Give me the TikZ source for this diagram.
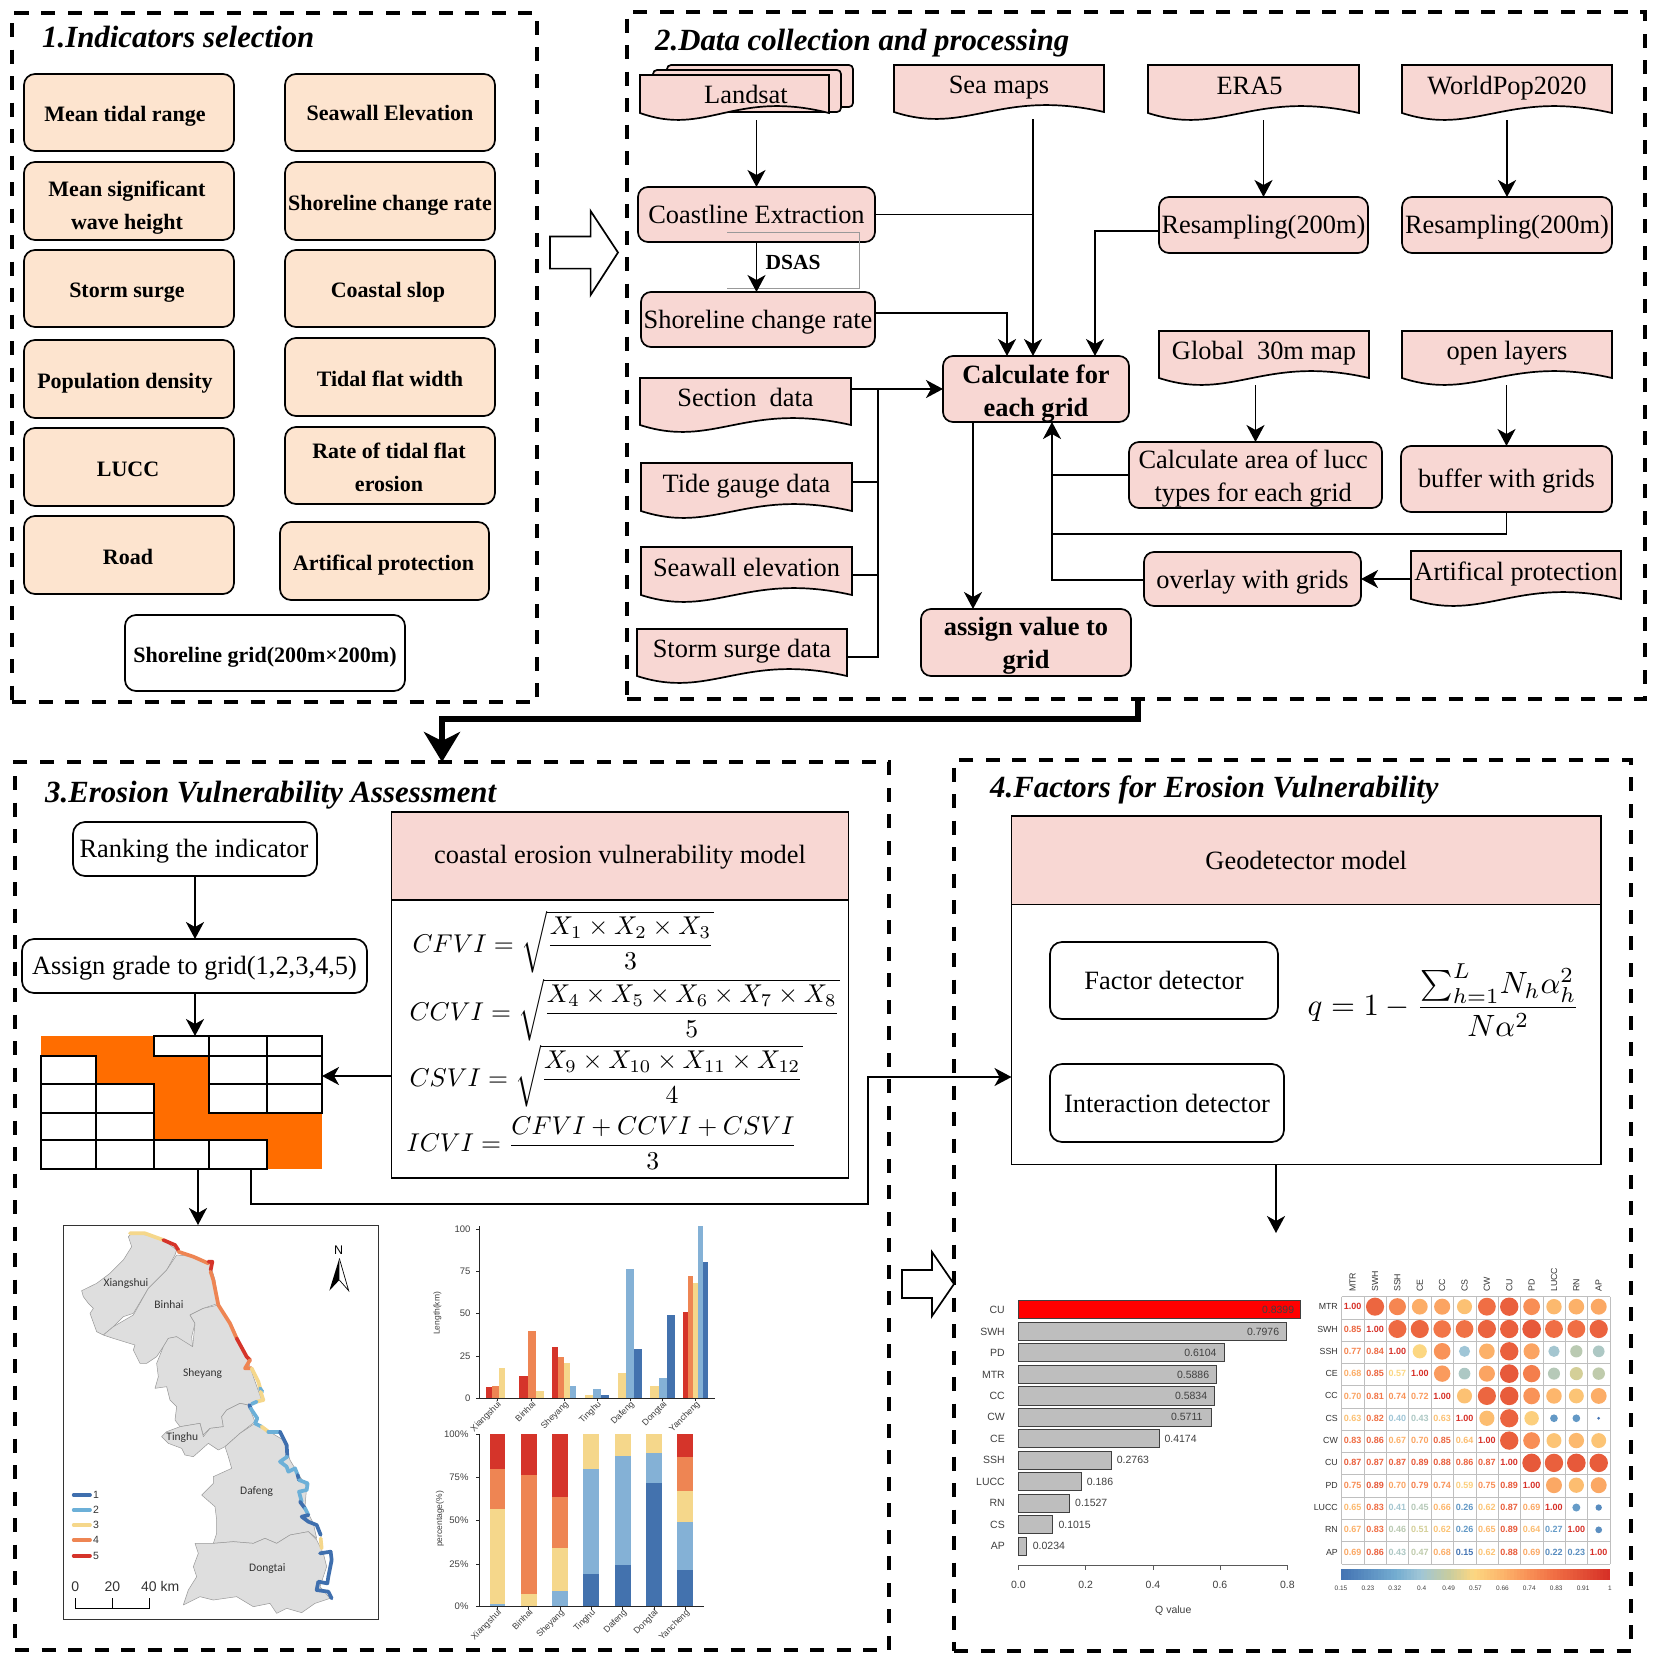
\documentclass[tikz,border=0pt]{standalone}
\usepackage{amsmath}
\usepackage{fontspec}
\setmainfont{Liberation Serif}
\setsansfont{Liberation Sans}
\newfontfamily\mapfont{Carlito}
\usetikzlibrary{arrows.meta,calc}
\definecolor{pinkc}{HTML}{F8D7D3}
\definecolor{peachc}{HTML}{FDE4CF}
\definecolor{orangec}{HTML}{FF6D00}
\definecolor{barR}{HTML}{D5342A}
\definecolor{barO}{HTML}{EE8553}
\definecolor{barY}{HTML}{F5D78B}
\definecolor{barL}{HTML}{84B1D6}
\definecolor{barD}{HTML}{4372AE}
\definecolor{legA}{HTML}{3F6FAE}
\definecolor{legB}{HTML}{6CB0D8}
\definecolor{landc}{HTML}{DEDEDE}
\definecolor{redq}{HTML}{FF0000}
\definecolor{greyq}{HTML}{BEBEBE}
\tikzset{
 arr/.style={line width=1.8pt,-{Stealth[length=17pt,width=18pt,inset=5pt]}},
 lin/.style={line width=1.8pt},
 framebox/.style={draw,line width=3.6pt,dash pattern=on 14pt off 12.5pt,inner sep=0pt,outer sep=0pt},
 peachbox/.style={draw,fill=peachc,line width=1.7pt,rounded corners=11pt,inner sep=0pt,outer sep=0pt,align=center,font=\bfseries\fontsize{22}{33}\selectfont},
 whitebold/.style={peachbox,fill=white},
 pinkbox/.style={draw,fill=pinkc,line width=1.7pt,rounded corners=10pt,inner sep=0pt,outer sep=0pt,align=center,font=\fontsize{26.4}{33}\selectfont},
 pinkbold/.style={pinkbox,font=\bfseries\fontsize{26.4}{33}\selectfont},
 whitebox/.style={pinkbox,fill=white,rounded corners=12pt},
 squarebox/.style={draw,fill=white,line width=1.7pt,inner sep=0pt,outer sep=0pt,align=center,font=\fontsize{26.4}{33}\selectfont},
 headbox/.style={squarebox,fill=pinkc},
 docshape/.style={draw,fill=pinkc,line width=1.7pt},
 titletext/.style={anchor=west,inner sep=0pt,font=\bfseries\itshape\fontsize{30.8}{34}\selectfont},
 eqtext/.style={anchor=west,inner sep=0pt,scale=2.57},
 mapname/.style={inner sep=0pt,font=\mapfont\fontsize{11.5}{13}\selectfont,text=black!80},
 axt/.style={inner sep=0pt,text=black!75,font=\sffamily\fontsize{9.5}{11}\selectfont},
 qt/.style={inner sep=0pt,text=black!75,font=\sffamily\fontsize{10.5}{12}\selectfont},
 corrnum/.style={inner sep=0pt,font=\sffamily\bfseries\fontsize{9}{10}\selectfont},
 corrlab/.style={inner sep=0pt,text=black!80,font=\sffamily\fontsize{8.8}{10}\selectfont},
 coast/.style={line width=3.7pt,line cap=round,line join=round},
}
\newcommand\tsh[3]{\hspace*{#1pt}\raisebox{#2pt}[\height][\depth]{#3}}
\newcommand\twol[2]{\begin{tabular}{@{}c@{}}#1\\#2\end{tabular}}
\newcommand\boxat[7]{%
 \pgfmathsetmacro\myCx{(#3+#5)/2}\pgfmathsetmacro\myCy{(#4+#6)/2}%
 \pgfmathsetmacro\myW{#5-#3}\pgfmathsetmacro\myH{#6-#4}%
 \node[#1,minimum width=\myW pt,minimum height=\myH pt] (#2) at (\myCx,\myCy) {#7};}
\newcommand\docnode[6]{%
 \pgfmathsetmacro\myW{#4-#2}\pgfmathsetmacro\myCa{#2+.35*\myW}\pgfmathsetmacro\myCb{#2+.5*\myW}%
 \pgfmathsetmacro\myDn{#5+24}\pgfmathsetmacro\myUp{#5-24}%
 \path[docshape] (#2,#3) -- (#4,#3) -- (#4,#5) .. controls (\myCb,\myUp) and (\myCa,\myDn) .. (#2,#5) -- cycle;
 \pgfmathsetmacro\myCx{(#2+#4)/2}\pgfmathsetmacro\myCy{(#3+#5+7)/2}\pgfmathsetmacro\myH{#5+7-#3}%
 \node[inner sep=0pt,outer sep=0pt,minimum width=\myW pt,minimum height=\myH pt,font=\fontsize{26.4}{33}\selectfont] (#1) at (\myCx,\myCy) {\raisebox{-1.5pt}[0pt][0pt]{#6}};}
\newcommand\corrlerp[8]{%
 \pgfmathsetmacro\corrT{(\vv-#1)/(#2-#1)}%
 \pgfmathtruncatemacro\corrR{#3+(#6-#3)*\corrT}%
 \pgfmathtruncatemacro\corrG{#4+(#7-#4)*\corrT}%
 \pgfmathtruncatemacro\corrB{#5+(#8-#5)*\corrT}%
 \definecolor{cc}{RGB}{\corrR,\corrG,\corrB}}
\newcommand\setcorr[1]{\pgfmathsetmacro\vv{#1}%
 \ifdim\vv pt<.32pt \corrlerp{.15}{.32}{69}{117}{180}{116}{173}{209}\else
 \ifdim\vv pt<.40pt \corrlerp{.32}{.40}{116}{173}{209}{160}{198}{215}\else
 \ifdim\vv pt<.49pt \corrlerp{.40}{.49}{160}{198}{215}{200}{205}{160}\else
 \ifdim\vv pt<.57pt \corrlerp{.49}{.57}{200}{205}{160}{252}{215}{130}\else
 \ifdim\vv pt<.66pt \corrlerp{.57}{.66}{252}{215}{130}{253}{182}{108}\else
 \ifdim\vv pt<.74pt \corrlerp{.66}{.74}{253}{182}{108}{249}{147}{88}\else
 \ifdim\vv pt<.83pt \corrlerp{.74}{.83}{249}{147}{88}{240}{110}{68}\else
 \ifdim\vv pt<.91pt \corrlerp{.83}{.91}{240}{110}{68}{228}{82}{55}\else
 \corrlerp{.91}{1}{228}{82}{55}{215}{48}{39}\fi\fi\fi\fi\fi\fi\fi\fi}
\begin{document}
\begin{tikzpicture}[x=1pt,y=-1pt]
\useasboundingbox (0,0) rectangle (1654,1663);
\fill[white] (0,0) rectangle (1654,1663);
% ---- frames
\boxat{framebox}{fa}{12}{13}{537}{702}{}
\boxat{framebox}{fb}{627}{12}{1645}{699}{}
\boxat{framebox}{fc}{15}{762}{889}{1650}{}
\boxat{framebox}{fd}{954}{760}{1631}{1651}{}
\node[titletext] (ta) at (42,37) {1.Indicators selection};
\node[titletext] (tb) at (655,43) {2.Data collection and processing};
\node[titletext] (tc) at (45,795) {3.Erosion Vulnerability Assessment};
\node[titletext] (td) at (990,790) {4.Factors for Erosion Vulnerability};
% ---- section 1
\boxat{peachbox}{p1}{24}{74}{234}{151}{\tsh{-8}{-4}{Mean tidal range}}
\boxat{peachbox}{p2}{24}{162}{234}{240}{\tsh{-4}{-5}{\twol{Mean significant}{wave height}}}
\boxat{peachbox}{p3}{24}{250}{234}{327}{\tsh{-4}{-4}{Storm surge}}
\boxat{peachbox}{p4}{24}{340}{234}{418}{\tsh{-8}{-4}{Population density}}
\boxat{peachbox}{p5}{24}{428}{234}{506}{\tsh{-2}{-2}{LUCC}}
\boxat{peachbox}{p6}{24}{516}{234}{594}{\tsh{-2}{-2}{Road}}
\boxat{peachbox}{q1}{285}{74}{495}{151}{Seawall Elevation}
\boxat{peachbox}{q2}{285}{162}{495}{240}{\tsh{0}{-4}{Shoreline change rate}}
\boxat{peachbox}{q3}{285}{250}{495}{327}{\tsh{-4}{-4}{Coastal slop}}
\boxat{peachbox}{q4}{285}{338}{495}{416}{\tsh{0}{-2}{Tidal flat width}}
\boxat{peachbox}{q5}{285}{427}{495}{504}{\tsh{-2}{-3}{\twol{Rate of tidal flat}{erosion}}}
\boxat{peachbox}{q6}{280}{522}{489}{600}{\tsh{-2}{-4}{Artifical protection}}
\boxat{whitebold}{sg}{125}{615}{405}{691}{\tsh{0}{-4}{Shoreline grid(200m×200m)}}
\draw[line width=1.7pt,fill=white] (550,236.5) -- (590.6,236.5) -- (590.6,211) -- (618,252.5) -- (590.6,295) -- (590.6,268.6) -- (550,268.6) -- cycle;
% ---- section 2 documents
\path[docshape,rounded corners=4pt] (667,107) -- (667,65) -- (853,65) -- (853,107) -- cycle;
\path[docshape,rounded corners=4pt] (653,112) -- (653,70) -- (841,70) -- (841,112) -- cycle;
\docnode{land}{640}{75}{829}{113}{\hspace*{23pt}\raisebox{-4pt}{Landsat}}
\docnode{sea}{894}{65}{1104}{112}{Sea maps}
\docnode{era}{1148}{65}{1359}{113}{\hspace*{-8pt}ERA5}
\docnode{world}{1402}{65}{1612}{113}{WorldPop2020}
\docnode{globalm}{1159}{331}{1369}{378}{Global\ \ 30m map}
\docnode{openl}{1402}{331}{1612}{378}{open layers}
\docnode{secd}{640}{378}{851}{425}{Section\ \ data}
\docnode{tide}{641}{463}{852}{511}{Tide gauge data}
\docnode{wall}{641}{547}{852}{595}{Seawall elevation}
\docnode{storm}{637}{629}{847}{676}{Storm surge data}
\docnode{art}{1411}{551}{1621}{599}{Artifical protection}
% ---- section 2 boxes
\boxat{pinkbox}{coastl}{638}{187}{875}{242}{Coastline Extraction}
\boxat{pinkbox}{rate}{641}{292}{875}{347}{\tsh{0}{-3}{Shoreline change rate}}
\boxat{pinkbox}{res1}{1159}{197}{1368}{253}{\tsh{0}{-2}{Resampling(200m)}}
\boxat{pinkbox}{res2}{1402}{197}{1612}{253}{\tsh{0}{-2}{Resampling(200m)}}
\boxat{pinkbold}{calc}{943}{356}{1129}{422}{\tsh{0}{-4}{\twol{Calculate for}{each grid}}}
\boxat{pinkbold}{assign}{921}{609}{1131}{676}{\tsh{0}{-3}{\twol{assign value to}{grid}}}
\boxat{pinkbox}{area}{1129}{442}{1382}{508}{\tsh{-4.6}{-3}{\twol{Calculate area of lucc}{types for each grid}}}
\boxat{pinkbox}{buffer}{1401}{446}{1612}{512}{\tsh{0}{-2}{buffer with grids}}
\boxat{pinkbox}{overlay}{1144}{552}{1361}{606}{\tsh{0}{-3}{overlay with grids}}
% DSAS
\draw[black!40,line width=.7pt] (727,232) -- (859,232) -- (859,288) -- (727,288);
\node[inner sep=0pt,font=\bfseries\fontsize{21.5}{24}\selectfont] (dsas) at (793,262) {DSAS};
% section 2 connectors
\coordinate (seaX) at (1033,120);
\coordinate (inA) at (1007,313);
\coordinate (inB) at (1095,231);
\coordinate (bus) at (878,389);
\coordinate (up) at (1052,580);
\draw[arr] (land.south -| coastl.north) -- (coastl.north);
\draw[arr] (coastl.south) -- (rate.north -| coastl.south);
\draw[arr] (sea.south -| seaX) -- (calc.north -| seaX);
\draw[lin] (coastl.east) -- (coastl.east -| seaX);
\draw[arr] (rate.east |- inA) -- (inA) -- (calc.north -| inA);
\draw[arr] (res1.west |- inB) -- (inB) -- (calc.north -| inB);
\draw[arr] (era.south -| res1.north) -- (res1.north);
\draw[arr] (world.south -| res2.north) -- (res2.north);
\draw[arr] (globalm.south -| area.north) -- (area.north);
\draw[arr] (openl.south -| buffer.north) -- (buffer.north);
\draw[arr] (secd.east |- bus) -- (calc.west |- bus);
\draw[lin] (bus) -- (bus |- 0,657) -- (storm.east |- 0,657);
\draw[lin] (tide.east |- 0,482) -- (bus |- 0,482);
\draw[lin] (wall.east |- 0,575) -- (bus |- 0,575);
\draw[arr] (calc.south -| 973,0) -- (assign.north -| 973,0);
\draw[arr] (overlay.west |- up) -- (up) -- (calc.south -| up);
\draw[lin] (area.west |- 0,475) -- (up |- 0,475);
\draw[lin] (buffer.south) -- (buffer.south |- 0,534) -- (up |- 0,534);
\draw[arr] (art.west |- 0,579) -- (overlay.east |- 0,579);
% thick connector
\coordinate (tkA) at (1138,699);
\coordinate (tkB) at (442,719);
\draw[line width=5.5pt,-{Stealth[length=30pt,width=36pt,inset=9pt]}] (tkA) |- (tkB) -- (fc.north -| tkB);
% ---- section 3
\boxat{whitebox}{rank}{73}{822}{317}{876}{\tsh{-2}{-2}{Ranking the indicator}}
\boxat{whitebox}{gradeb}{22}{939}{367}{993}{\tsh{0}{-2}{Assign grade to grid(1,2,3,4,5)}}
\boxat{headbox}{modelhead}{391.5}{812}{848.5}{900}{\tsh{0}{-1}{coastal erosion vulnerability model}}
\boxat{squarebox}{modelbody}{391.5}{900}{848.5}{1178}{}
\node[eqtext] (eqa) at (412,942) {$CFVI=\sqrt{\dfrac{X_1\times X_2\times X_3}{3}}$};
\node[eqtext] (eqb) at (409,1010) {$CCVI=\sqrt{\dfrac{X_4\times X_5\times X_6\times X_7\times X_8}{5}}$};
\node[eqtext] (eqc) at (409,1076) {$CSVI=\sqrt{\dfrac{X_9\times X_{10}\times X_{11}\times X_{12}}{4}}$};
\node[eqtext] (eqd) at (406,1143) {$ICVI=\dfrac{CFVI+CCVI+CSVI}{3}$};
% grid
\boxat{inner sep=0pt,outer sep=0pt}{grid}{41}{1036}{322}{1169}{}
\fill[orangec] (41,1036) rectangle (154,1056);
\fill[orangec] (96,1056) rectangle (209,1084);
\fill[orangec] (154,1084) rectangle (209,1140);
\fill[orangec] (209,1113) rectangle (322,1140);
\fill[orangec] (267,1140) rectangle (322,1169);
\begin{scope}[line width=1.3pt]
\draw (154,1036) rectangle (209,1056) (209,1036) rectangle (267,1056) (267,1036) rectangle (322,1056);
\draw (41,1056) rectangle (96,1084) (209,1056) rectangle (267,1084) (267,1056) rectangle (322,1084);
\draw (41,1084) rectangle (96,1113) (96,1084) rectangle (154,1113) (209,1084) rectangle (267,1113) (267,1084) rectangle (322,1113);
\draw (41,1113) rectangle (96,1140) (96,1113) rectangle (154,1140);
\draw (41,1140) rectangle (96,1169) (96,1140) rectangle (154,1169) (154,1140) rectangle (209,1169) (209,1140) rectangle (267,1169);
\end{scope}
\boxat{draw=black!80,line width=1pt,inner sep=0pt,outer sep=0pt}{mapf}{63}{1225}{378}{1619}{}
\coordinate (bendA) at (251,1204);
\coordinate (bendB) at (868,1077);
\draw[arr] (rank.south) -- (gradeb.north -| rank.south);
\draw[arr] (gradeb.south -| rank.south) -- (grid.north -| rank.south);
\draw[arr] (modelbody.west |- 0,1076) -- (grid.east |- 0,1076);
\draw[arr] (grid.south -| 198,0) -- (mapf.north -| 198,0);
% ---- section 4
\boxat{headbox}{geohead}{1011.5}{816}{1601}{904.5}{Geodetector model}
\boxat{squarebox}{geobody}{1011.5}{904.5}{1601}{1164.5}{}
\boxat{whitebox}{factor}{1050}{942}{1278}{1019}{Factor detector}
\boxat{whitebox}{inter}{1050}{1064}{1284}{1142}{Interaction detector}
\node[anchor=west,inner sep=0pt,scale=3.08] (eqq) at (1307,1000) {$q=1-\dfrac{\sum_{h=1}^{L}\!N_h\alpha_h^2}{N\alpha^2}$};
\coordinate (qc) at (1276,1233);
\draw[arr] (geobody.south -| qc) -- (qc);
\draw[arr] (grid.south -| bendA) -- (bendA) -| (bendB) -- (geobody.west |- bendB);
\draw[line width=1.7pt,fill=white] (902,1270) -- (932,1270) -- (932,1252) -- (954,1284) -- (932,1316) -- (932,1298) -- (902,1298) -- cycle;
% ---- map
\begin{scope}[shift={(0,1200)},x=.33333pt,y=-.33333pt]
\begin{scope}[fill=landc,draw=black!40,line width=.5pt,line join=round]
\filldraw (395,100)--(440,105)--(490,120)--(530,150)--(525,165)--(500,210)--(445,265)--(400,340)--(370,350)--(340,380)--(310,405)--(290,395)--(270,340)--(280,325)--(265,310)--(250,290)--(245,272)--(290,250)--(330,220)--(370,180)--(395,140)--(385,110)--cycle;
\filldraw (530,165)--(590,170)--(630,190)--(645,240)--(655,310)--(610,325)--(570,345)--(585,370)--(575,410)--(578,440)--(545,425)--(530,410)--(505,415)--(490,440)--(470,470)--(440,490)--(420,490)--(400,450)--(405,435)--(340,415)--(310,405)--(340,380)--(400,345)--(445,265)--(500,210)--cycle;
\filldraw (655,315)--(690,370)--(740,470)--(760,530)--(785,600)--(745,615)--(720,610)--(680,630)--(665,650)--(670,680)--(630,685)--(610,705)--(600,670)--(540,680)--(525,660)--(530,620)--(510,600)--(500,560)--(465,565)--(475,530)--(470,490)--(490,440)--(505,415)--(530,410)--(578,440)--(585,370)--(570,345)--(610,325)--cycle;
\filldraw (600,670)--(610,710)--(630,685)--(670,680)--(665,650)--(680,630)--(720,610)--(745,615)--(765,665)--(720,700)--(675,740)--(655,750)--(625,730)--(580,770)--(555,765)--(545,745)--(505,730)--(485,710)--(500,695)--(540,680)--cycle;
\filldraw (765,670)--(800,690)--(850,720)--(870,780)--(900,830)--(920,860)--(915,920)--(940,970)--(950,1015)--(925,995)--(870,1005)--(830,1030)--(795,1015)--(760,1030)--(700,1025)--(640,1030)--(650,1000)--(650,960)--(645,920)--(605,885)--(640,850)--(640,830)--(695,805)--(685,770)--(675,740)--(720,700)--cycle;
\filldraw (640,1030)--(700,1025)--(760,1030)--(795,1015)--(830,1030)--(870,1005)--(925,995)--(950,1020)--(970,1060)--(980,1100)--(960,1160)--(990,1195)--(945,1210)--(905,1238)--(860,1225)--(830,1240)--(810,1210)--(760,1220)--(710,1190)--(640,1200)--(600,1190)--(550,1215)--(565,1170)--(590,1130)--(580,1100)--(595,1060)--(585,1030)--cycle;
\end{scope}
\draw[coast,barY] (390,100)--(435,100)--(490,120);
\draw[coast,barR] (490,120)--(525,135)--(535,150);
\draw[coast,barO] (535,155)--(580,170)--(625,190);
\draw[coast,barR] (625,185)--(637,185)--(632,210);
\draw[coast,barO] (632,215)--(640,240)--(650,290)--(655,315)--(690,370)--(710,415);
\draw[coast,barR] (710,415)--(740,470)--(750,480);
\draw[coast,barO] (750,480)--(735,505)--(755,505);
\draw[coast,barY] (755,505)--(775,545)--(782,570);
\draw[coast,legB] (780,565)--(787,575);
\draw[coast,barY] (782,575)--(790,600)--(770,605);
\draw[coast,legB] (770,605)--(755,612);
\draw[coast,legA] (748,615)--(752,625);
\draw[coast,legB] (752,625)--(772,655)--(765,670)--(785,680);
\draw[coast,barY] (785,680)--(805,695);
\draw[coast,legB] (805,695)--(840,695);
\draw[coast,legA] (840,695)--(860,735)--(862,770);
\draw[coast,legB] (862,770)--(840,785)--(860,800)--(865,815)--(885,805)--(893,825);
\draw[coast,legA] (893,825)--(897,840);
\draw[coast,legB] (897,840)--(923,850)--(920,870)--(897,875)--(905,905);
\draw[coast,legA] (900,905)--(915,925);
\draw[coast,legB] (915,925)--(925,945);
\draw[coast,legA] (925,945)--(905,950)--(925,965)--(950,975)--(962,1005);
\draw[coast,barY] (962,1015)--(965,1045);
\draw[coast,legA] (960,1060)--(992,1055)--(995,1080)--(985,1130)--(982,1150)--(955,1145)--(950,1170)--(985,1175)--(995,1195);
\node[mapname] (m1) at (378,250) {Xiangshui};
\node[mapname] (m2) at (507,315) {Binhai};
\node[mapname] (m3) at (608,520) {Sheyang};
\node[mapname] (m4) at (547,712) {Tinghu};
\node[mapname] (m5) at (770,875) {Dafeng};
\node[mapname] (m6) at (802,1107) {Dongtai};
\foreach \ly/\bc/\lb [count=\n] in {885/legA/1,930/legB/2,975/barY/3,1020/barO/4,1067/barR/5}{
 \draw[coast,\bc] (221,\ly) -- (270,\ly);
 \node[anchor=west,inner sep=0pt,text=black!80,font=\sffamily\fontsize{10.5}{12}\selectfont] (leg\n) at (279,\ly) {\lb};
}
\draw[line width=.8pt] (226,1195) -- (226,1225) -- (447,1225) -- (447,1195) (337,1195) -- (337,1225);
\node[text=black!80,inner sep=0pt,font=\sffamily\fontsize{14}{16}\selectfont] (s0) at (226,1160) {0};
\node[text=black!80,inner sep=0pt,font=\sffamily\fontsize{14}{16}\selectfont] (s1) at (337,1160) {20};
\node[text=black!80,anchor=west,inner sep=0pt,font=\sffamily\fontsize{14}{16}\selectfont] (s2) at (423,1160) {40 km};
\node[inner sep=0pt,font=\sffamily\fontsize{12.5}{14}\selectfont] (north) at (1016,150) {N};
\fill (1018,175) -- (988,272) -- (1018,240) -- cycle;
\draw[line width=.7pt] (1018,175) -- (1046,272) -- (1018,240);
\end{scope}
% ---- bar charts
\begin{scope}[shift={(420,1200)},x=.33333pt,y=-.33333pt]
\foreach \xa/\xb/\yt/\bc in {198/217/562/barR,217/236/557/barO,236/255/503/barY,298/323/527/barR,323/347/393/barO,347/372/573/barY,396/414/441/barR,414/433/471/barO,433/451/490/barY,451/469/558/barL,495/518/586/barY,518/542/567/barL,542/567/586/barD,593/617/518/barY,617/642/208/barL,642/667/448/barD,691/716/557/barY,716/741/533/barL,741/765/344/barD,790/804/337/barR,804/819/228/barO,819/834/248/barY,834/849/78/barL,849/863/187/barD}{
 \fill[\bc] (\xa,595) rectangle (\xb,\yt);
}
\draw[line width=1pt,black!85] (177,78) -- (177,595) -- (885,595);
\foreach \yy/\lb [count=\n] in {87/100,213/75,340/50,468/25,595/0}{
 \draw[line width=.8pt,black!85] (168,\yy) -- (177,\yy);
 \node[axt,anchor=east] (ya\n) at (152,\yy) {\lb};
}
\node[axt,rotate=90,font=\sffamily\fontsize{8.5}{10}\selectfont] (ylab) at (52,340) {Length(km)};
\foreach \xx/\lb [count=\n] in {231/Xiangshui,335/Binhai,433/Sheyang,531/Tinghu,630/Dafeng,728/Dongtai,827/Yancheng}{
 \draw[line width=.8pt,black!85] (\xx,595) -- (\xx,604);
 \node[axt,rotate=45,anchor=north east,font=\sffamily\fontsize{8.8}{10}\selectfont] (xa\n) at (\xx,600) {\lb};
}
\foreach \xa/\xb/\ya/\yb/\bc in {209/256/1212/1220/barL,209/256/928/1212/barY,209/256/808/928/barO,209/256/703/808/barR,
303/350/1182/1220/barY,303/350/824/1182/barO,303/350/703/824/barR,
396/443/1173/1220/barL,396/443/1045/1173/barY,396/443/891/1045/barO,396/443/703/891/barR,
490/538/1122/1220/barD,490/538/808/1122/barL,490/538/703/808/barY,
585/632/1096/1220/barD,585/632/767/1096/barL,585/632/703/767/barY,
679/726/850/1220/barD,679/726/758/850/barL,679/726/703/758/barY,
772/819/1110/1220/barD,772/819/967/1110/barL,772/819/872/967/barY,772/819/772/872/barO,772/819/703/772/barR}{
 \fill[\bc] (\xa,\ya) rectangle (\xb,\yb);
}
\draw[line width=1pt,black!85] (177,703) -- (177,1220) -- (853,1220);
\foreach \yy/\lb [count=\n] in {703/100\%,832/75\%,962/50\%,1092/25\%,1220/0\%}{
 \draw[line width=.8pt,black!85] (168,\yy) -- (177,\yy);
 \node[axt,anchor=east] (yb\n) at (146,\yy) {\lb};
}
\node[axt,rotate=90,font=\sffamily\fontsize{8.5}{10}\selectfont] (ylabb) at (60,957) {percentage(\%)};
\foreach \xx/\lb [count=\n] in {232/Xiangshui,326/Binhai,420/Sheyang,514/Tinghu,608/Dafeng,702/Dongtai,796/Yancheng}{
 \draw[line width=.8pt,black!85] (\xx,1220) -- (\xx,1229);
 \node[axt,rotate=45,anchor=north east,font=\sffamily\fontsize{8.8}{10}\selectfont] (xb\n) at (\xx,1225) {\lb};
}
\end{scope}
% ---- Q chart
\begin{scope}[shift={(960,1270)},x=.33333pt,y=-.33333pt]
\foreach \lab/\ya/\yb/\xe/\val/\vx/\van/\fc [count=\n] in {CU/92/146/1022/0.8399/1003/east/redq,SWH/157/212/980/0.7976/958/east/greyq,PD/221/275/792/0.6104/770/east/greyq,MTR/287/341/770/0.5886/748/east/greyq,CC/350/405/763/0.5834/742/east/greyq,CW/414/468/753/0.5711/728/east/greyq,CE/479/533/597/0.4174/613/west/greyq,SSH/543/597/455/0.2763/470/west/greyq,LUCC/608/662/363/0.186/380/west/greyq,RN/672/726/328/0.1527/345/west/greyq,CS/737/791/278/0.1015/295/west/greyq,AP/802/856/199/0.0234/218/west/greyq}{
 \filldraw[fill=\fc,draw=black!75,line width=.9pt] (175,\ya) rectangle (\xe,\yb);
 \pgfmathsetmacro\ym{(\ya+\yb)/2}
 \node[qt,anchor=east] (ql\n) at (135,\ym) {\lab};
 \node[qt,anchor=\van] (qv\n) at (\vx,\ym) {\val};
}
\draw[line width=.8pt,black!65] (175,885) -- (982,885);
\foreach \xx/\lb [count=\n] in {175/0.0,377/0.2,579/0.4,780/0.6,982/0.8}{
 \draw[line width=.8pt,black!65] (\xx,885) -- (\xx,900);
 \node[qt] (qx\n) at (\xx,945) {\lb};
}
\node[qt] (qxl) at (640,1022) {Q value};
\end{scope}
% ---- correlation plot
\begin{scope}[shift={(1310,1260)},x=.33333pt,y=-.33333pt]
\foreach \k in {0,...,12}{
 \pgfmathsetmacro\gx{95+67.1*\k}\pgfmathsetmacro\gy{110+66.8*\k}
 \draw[black!25,line width=.7pt] (\gx,110) -- (\gx,912);
 \draw[black!25,line width=.7pt] (95,\gy) -- (900,\gy);
}
\foreach \lab [count=\n] in {MTR,SWH,SSH,CE,CC,CS,CW,CU,PD,LUCC,RN,AP}{
 \pgfmathsetmacro\tx{128+67.1*(\n-1)}\pgfmathsetmacro\ty{140+66.95*(\n-1)}
 \node[corrlab,anchor=east] (rl\n) at (84,\ty) {\lab};
 \node[corrlab,rotate=90,anchor=west] (cl\n) at (\tx,96) {\lab};
}
\foreach \row [count=\ri] in {{1.00},{0.85,1.00},{0.77,0.84,1.00},{0.68,0.85,0.57,1.00},{0.70,0.81,0.74,0.72,1.00},{0.63,0.82,0.40,0.43,0.63,1.00},{0.83,0.86,0.67,0.70,0.85,0.64,1.00},{0.87,0.87,0.87,0.89,0.88,0.86,0.87,1.00},{0.75,0.89,0.70,0.79,0.74,0.59,0.75,0.89,1.00},{0.65,0.83,0.41,0.45,0.66,0.26,0.62,0.87,0.69,1.00},{0.67,0.83,0.46,0.51,0.62,0.26,0.65,0.89,0.64,0.27,1.00},{0.69,0.86,0.43,0.47,0.68,0.15,0.62,0.88,0.69,0.22,0.23,1.00}}{
 \foreach \vn [count=\cj] in \row {
  \setcorr{\vn}
  \pgfmathsetmacro\tx{128+67.1*(\cj-1)}\pgfmathsetmacro\ty{140+66.95*(\ri-1)}
  \node[corrnum,text=cc] (cn\ri x\cj) at (\tx,\ty) {\vn};
  \ifnum\cj<\ri
   \pgfmathsetmacro\ux{128+67.1*(\ri-1)}\pgfmathsetmacro\uy{140+66.95*(\cj-1)}
   \pgfmathsetmacro\rr{32*sqrt(\vn-.13)/3}
   \fill[cc] (\ux,\uy) circle[radius=\rr pt];
  \fi
 }
}
\foreach \k in {0,...,80}{
 \pgfmathsetmacro\vb{.15+.85*\k/80}
 \setcorr{\vb}
 \pgfmathsetmacro\gx{93+\k*9.96}
 \fill[cc] (\gx,928) rectangle +(10.6,32);
}
\foreach \lb [count=\n] in {0.15,0.23,0.32,0.4,0.49,0.57,0.66,0.74,0.83,0.91,1}{
 \pgfmathsetmacro\gx{93+80.7*(\n-1)}
 \node[inner sep=0pt,text=black!75,font=\sffamily\fontsize{6.5}{8}\selectfont] (cb\n) at (\gx,985) {\lb};
}
\end{scope}
\end{tikzpicture}
\end{document}
